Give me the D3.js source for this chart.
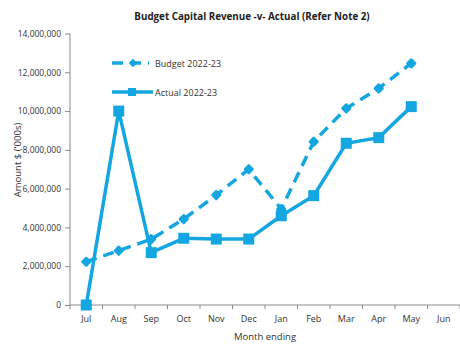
<!DOCTYPE html>
<html><head><meta charset="utf-8">
<script src="https://cdn.jsdelivr.net/npm/d3@7"></script>
<style>body{margin:0;background:#fff}svg{display:block}</style>
</head><body>
<svg id="c" width="460" height="345"></svg>
<script>
const months = ["Jul","Aug","Sep","Oct","Nov","Dec","Jan","Feb","Mar","Apr","May","Jun"];
const budget = [2230000,2800000,3400000,4430000,5670000,7000000,4950000,8420000,10140000,11170000,12460000,null];
const actual = [0,10000000,2700000,3440000,3400000,3400000,4600000,5640000,8340000,8630000,10230000,null];
const yTicks = [0,2000000,4000000,6000000,8000000,10000000,12000000,14000000];
const seriesNames = ["Budget 2022-23","Actual 2022-23"];

const color = "#14a6e0";
const font = "'Open Sans', 'Liberation Sans', sans-serif";
const svg = d3.select("#c");
const pL = 70, pR = 460, pT = 33.5, pB = 305;
const x = d3.scaleBand().domain(months).range([pL, pR]);
const y = d3.scaleLinear().domain([0, 14000000]).range([pB, pT]);

// title
svg.append("text").attr("x", 252).attr("y", 20).attr("text-anchor","middle")
  .attr("font-family", font).attr("font-size", 9.8).attr("font-weight","bold").attr("fill","#222")
  .text("Budget Capital Revenue -v- Actual (Refer Note 2)");

// y axis
const ya = svg.append("g").attr("transform",`translate(${pL},0)`)
  .call(d3.axisLeft(y).tickValues(yTicks).tickSize(5).tickPadding(4).tickFormat(d3.format(",")));
ya.selectAll("text").attr("font-family", font).attr("font-size", 8.5).attr("fill","#333");
ya.selectAll("line,path").attr("stroke","#8a8a8a");
ya.select("path").attr("d", `M0,${pT}V${pB}`);

// x axis
const xa = svg.append("g").attr("transform",`translate(0,${pB})`)
  .call(d3.axisBottom(x).tickSize(0).tickPadding(11));
xa.select("path").attr("stroke","#8a8a8a").attr("d", `M${pL},0H${pR}`);
xa.selectAll("text").attr("font-family", font).attr("font-size", 9).attr("fill","#333");
const bounds = months.map(m => x(m)).concat([pR]);
svg.append("g").selectAll("line").data(bounds).join("line")
  .attr("x1", d=>d).attr("x2", d=>d).attr("y1", pB).attr("y2", pB+4)
  .attr("stroke","#8a8a8a");

// axis titles
svg.append("text").attr("x", 265).attr("y", 340).attr("text-anchor","middle")
  .attr("font-family", font).attr("font-size", 9.5).attr("fill","#333").text("Month ending");
svg.append("text").attr("transform","translate(21,160) rotate(-90)").attr("text-anchor","middle")
  .attr("font-family", font).attr("font-size", 9.5).attr("fill","#333").text("Amount $ ('000s)");

const cx = i => x(months[i]) + x.bandwidth()/2;
const line = d3.line().defined(d => d != null).x((d,i)=>cx(i)).y(d=>y(d));

// budget
svg.append("path").datum(budget).attr("d", line).attr("fill","none")
  .attr("stroke", color).attr("stroke-width", 3.5).attr("stroke-dasharray","11,7");
svg.append("g").selectAll("rect").data(budget.map((v,i)=>[v,i]).filter(d=>d[0]!=null)).join("rect")
  .attr("x",-4).attr("y",-4).attr("width",8).attr("height",8).attr("rx",1.5)
  .attr("transform", d=>`translate(${cx(d[1])},${y(d[0])}) rotate(45)`)
  .attr("fill", color);

// actual
svg.append("path").datum(actual).attr("d", line).attr("fill","none")
  .attr("stroke", color).attr("stroke-width", 3.5);
svg.append("g").selectAll("rect").data(actual.map((v,i)=>[v,i]).filter(d=>d[0]!=null)).join("rect")
  .attr("x", d=>cx(d[1])-5.5).attr("y", d=>y(d[0])-5.5).attr("width",11).attr("height",11).attr("fill", color);

// legend
const lg = svg.append("g");
lg.append("line").attr("x1",112).attr("x2",149).attr("y1",63).attr("y2",63)
  .attr("stroke",color).attr("stroke-width",3.5).attr("stroke-dasharray","11,7");
lg.append("rect").attr("x",-3).attr("y",-3).attr("width",6).attr("height",6)
  .attr("transform","translate(133,63) rotate(45)").attr("fill",color);
lg.append("text").attr("x",155).attr("y",66.5).attr("font-family",font).attr("font-size",9).attr("fill","#333").text(seriesNames[0]);
lg.append("line").attr("x1",112).attr("x2",153).attr("y1",92).attr("y2",92)
  .attr("stroke",color).attr("stroke-width",3.5);
lg.append("rect").attr("x",128).attr("y",88).attr("width",8).attr("height",8).attr("fill",color);
lg.append("text").attr("x",155).attr("y",95.5).attr("font-family",font).attr("font-size",9).attr("fill","#333").text(seriesNames[1]);
lg.append("rect").attr("x",114).attr("y",108).attr("width",7).attr("height",8).attr("fill",color);
</script>
</body></html>
